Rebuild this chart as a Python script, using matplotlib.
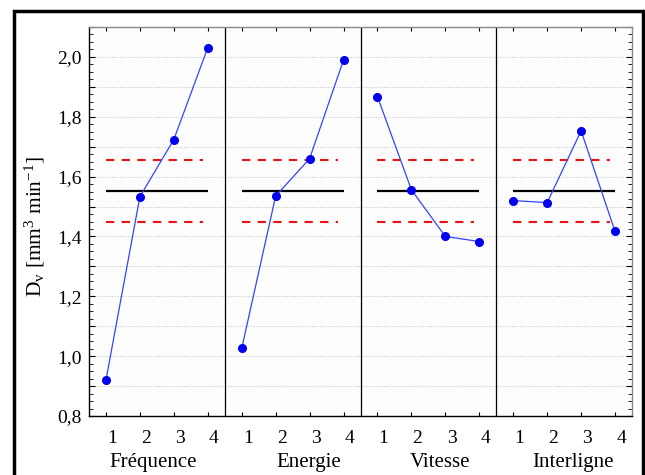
import numpy as np
import matplotlib.pyplot as plt
from matplotlib.patches import Rectangle
from matplotlib.ticker import MultipleLocator, FuncFormatter

plt.rcParams["font.family"] = ["Liberation Serif", "DejaVu Serif"]
plt.rcParams["mathtext.fontset"] = "custom"
plt.rcParams["mathtext.rm"] = "Liberation Serif"
plt.rcParams["mathtext.it"] = "Liberation Serif:italic"

factors = ["Fréquence", "Energie", "Vitesse", "Interligne"]
levels = ["1", "2", "3", "4"]
frequence = [0.92, 1.533, 1.724, 2.031]
energie = [1.026, 1.535, 1.66, 1.99]
vitesse = [1.867, 1.556, 1.40, 1.383]
interligne = [1.52, 1.513, 1.753, 1.417]
grand_mean = 1.553
upper_limit = 1.657
lower_limit = 1.447

series = [frequence, energie, vitesse, interligne]
# where each factor name sits inside its panel (in level units)
name_x = [2.39, 2.97, 2.84, 2.76]

fig = plt.figure(figsize=(6.45, 4.75), dpi=100, facecolor="white")
ax = fig.add_axes([89 / 645, 1 - 416 / 475, 543 / 645, 389 / 475])
ax.set_facecolor("#fdfdfd")

n = len(levels)
for i, vals in enumerate(series):
    x = np.arange(1, n + 1) + i * n
    ax.hlines(grand_mean, x[0], x[-1], color="black", lw=1.6, zorder=3)
    ax.hlines([upper_limit, lower_limit], x[0], x[-1] - 0.15, color="#ee1111",
              lw=1.5, linestyles=(0, (4, 3.5)), zorder=3)
    ax.plot(x, vals, color="#3344ff", lw=0.9, marker="o", ms=5.5,
            mfc="#0000ee", mec="#0000ee", zorder=4)
    if i > 0:
        ax.axvline(i * n + 0.5, color="black", lw=0.9, zorder=2)

ax.set_xlim(0.5, n * len(series) + 0.5)
ax.set_ylim(0.8, 2.1)

# tick marks at the levels, labels drawn slightly to the right of them
pos = np.arange(1, n * len(series) + 1)
ax.set_xticks(pos, [""] * len(pos))
ax.set_xticks(pos + 0.18, levels * len(series), minor=True)

ax.yaxis.set_major_locator(MultipleLocator(0.1))
ax.yaxis.set_minor_locator(MultipleLocator(0.025))
ax.yaxis.set_major_formatter(FuncFormatter(
    lambda v, p: f"{v:.1f}".replace(".", ",") if round(v * 10) % 2 == 0 else ""))

ax.grid(axis="y", which="major", color="#c8c8c8", lw=0.8, linestyle=(0, (1, 1.5)))
ax.tick_params(axis="both", which="both", direction="in", labelsize=14,
               colors="black", top=True, right=True)
ax.tick_params(axis="y", which="major", length=4, pad=5)
ax.tick_params(axis="y", which="minor", length=3)
ax.tick_params(axis="x", which="major", length=3)
ax.tick_params(axis="x", which="minor", length=0, pad=10, top=False)

for side in ["top", "right"]:
    ax.spines[side].set_color("#888888")
for side in ["left", "bottom"]:
    ax.spines[side].set_color("black")
for s in ax.spines.values():
    s.set_linewidth(1.0)

for i, name in enumerate(factors):
    ax.text(i * n + name_x[i], -0.12, name, transform=ax.get_xaxis_transform(),
            ha="center", va="center", fontsize=15)

ax.set_ylabel(r"D$_\mathrm{v}$ [mm$^3$ min$^{-1}$]", fontsize=15.5)
ax.yaxis.set_label_coords(-0.078, 0.488)

# outer frame
fig.add_artist(Rectangle((14 / 645, -0.05), 629 / 645, 1 - 11 / 475 + 0.05,
                         transform=fig.transFigure, fill=False,
                         edgecolor="black", lw=2.5))

fig.savefig("out.png", dpi=100, facecolor="white")
